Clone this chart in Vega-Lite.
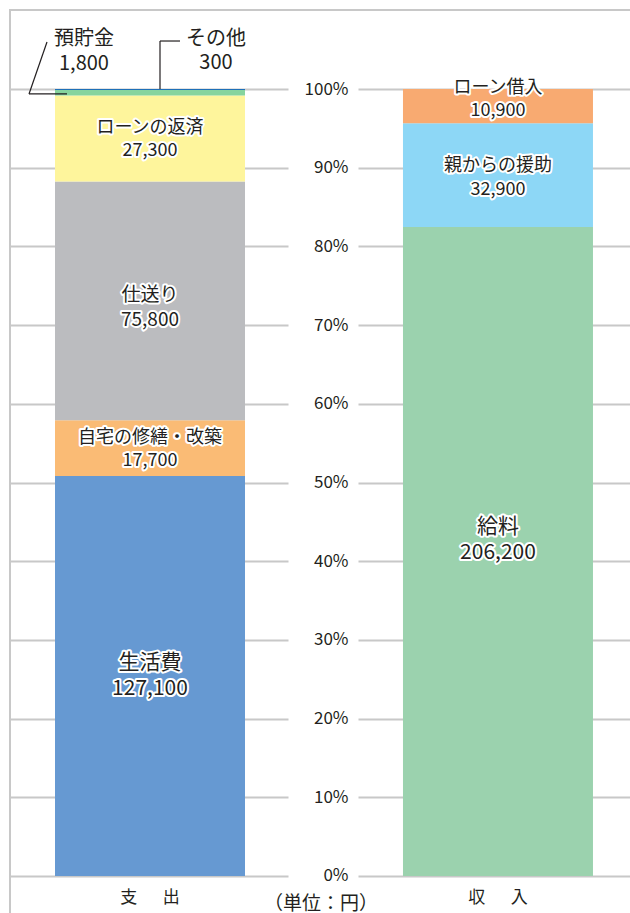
{
  "$schema": "https://vega.github.io/schema/vega-lite/v6.json",
  "width": 621,
  "height": 904,
  "autosize": {"type": "none"},
  "padding": {"left": 10, "top": 10, "right": 0, "bottom": 0},
  "background": "white",
  "config": {
    "font": "Noto Sans CJK JP",
    "view": {"stroke": "#c8c8c8", "strokeWidth": 2},
    "text": {"color": "#231f20"}
  },
  "data": {
    "values": [
      {"side": "支　\u2002出", "item": "生活費", "value": 127100, "order": 1},
      {"side": "支　\u2002出", "item": "自宅の修繕・改築", "value": 17700, "order": 2},
      {"side": "支　\u2002出", "item": "仕送り", "value": 75800, "order": 3},
      {"side": "支　\u2002出", "item": "ローンの返済", "value": 27300, "order": 4},
      {"side": "支　\u2002出", "item": "預貯金", "value": 1800, "order": 5},
      {"side": "支　\u2002出", "item": "その他", "value": 300, "order": 6},
      {"side": "収　\u2002入", "item": "給料", "value": 206200, "order": 1},
      {"side": "収　\u2002入", "item": "親からの援助", "value": 32900, "order": 2},
      {"side": "収　\u2002入", "item": "ローン借入", "value": 10900, "order": 3}
    ]
  },
  "transform": [
    {"stack": "value", "groupby": ["side"], "sort": [{"field": "order", "order": "ascending"}], "offset": "normalize", "as": ["y0", "y1"]}
  ],
  "encoding": {
    "x": {
      "field": "side",
      "type": "nominal",
      "sort": ["支　\u2002出", "収　\u2002入"],
      "scale": {"domain": ["支　\u2002出", "収　\u2002入"], "paddingInner": 0.454, "paddingOuter": 0.1193, "align": 0.542},
      "axis": {
        "orient": "bottom",
        "offset": -38,
        "domain": false,
        "ticks": false,
        "tickSize": 0,
        "grid": false,
        "labelPadding": 13,
        "labelFontSize": 17,
        "labelColor": "#231f20",
        "labelAngle": 0,
        "title": "（単位：円）",
        "titleFontSize": 19,
        "titleFontWeight": "normal",
        "titleColor": "#231f20",
        "titleY": 27,
        "titleBaseline": "middle"
      }
    },
    "y": {
      "field": "y0",
      "type": "quantitative",
      "scale": {"domain": [-0.0483, 1.1004], "nice": false, "zero": false},
      "axis": {
        "orient": "left",
        "offset": -338,
        "values": [0, 0.1, 0.2, 0.3, 0.4, 0.5, 0.6, 0.7, 0.8, 0.9, 1],
        "format": ".0%",
        "domain": false,
        "ticks": false,
        "tickSize": 0,
        "labelPadding": 0,
        "labelFontSize": 17,
        "labelColor": "#231f20",
        "grid": true,
        "gridColor": "#c8c8c8",
        "gridWidth": 2,
        "gridDash": [278, 70, 1000],
        "title": null
      }
    }
  },
  "layer": [
    {
      "mark": {"type": "bar"},
      "encoding": {
        "y2": {"field": "y1"},
        "color": {
          "field": "item",
          "type": "nominal",
          "legend": null,
          "scale": {
            "domain": ["生活費", "自宅の修繕・改築", "仕送り", "ローンの返済", "預貯金", "その他", "給料", "親からの援助", "ローン借入"],
            "range": ["#6699d2", "#fabb75", "#bbbcbf", "#fef59c", "#86d49e", "#1e70b8", "#9bd2ae", "#8dd7f6", "#f8aa71"]
          }
        }
      }
    },
    {
      "transform": [{"filter": {"field": "item", "equal": "生活費"}}],
      "layer": [
        {"mark": {"type": "text", "fontSize": 21, "dy": -212.5, "fill": "white", "stroke": "white", "strokeWidth": 4, "strokeJoin": "round"}, "encoding": {"text": {"field": "item"}}},
        {"mark": {"type": "text", "fontSize": 21, "dy": -186.5, "fill": "white", "stroke": "white", "strokeWidth": 4, "strokeJoin": "round"}, "encoding": {"text": {"field": "value", "type": "quantitative", "format": ","}}},
        {"mark": {"type": "text", "fontSize": 21, "dy": -212.5, "fill": "#231f20"}, "encoding": {"text": {"field": "item"}}},
        {"mark": {"type": "text", "fontSize": 21, "dy": -186.5, "fill": "#231f20"}, "encoding": {"text": {"field": "value", "type": "quantitative", "format": ","}}}
      ]
    },
    {
      "transform": [{"filter": {"field": "item", "equal": "自宅の修繕・改築"}}],
      "layer": [
        {"mark": {"type": "text", "fontSize": 18, "dy": -37.6, "fill": "white", "stroke": "white", "strokeWidth": 4, "strokeJoin": "round"}, "encoding": {"text": {"field": "item"}}},
        {"mark": {"type": "text", "fontSize": 18, "dy": -14.6, "fill": "white", "stroke": "white", "strokeWidth": 4, "strokeJoin": "round"}, "encoding": {"text": {"field": "value", "type": "quantitative", "format": ","}}},
        {"mark": {"type": "text", "fontSize": 18, "dy": -37.6, "fill": "#231f20"}, "encoding": {"text": {"field": "item"}}},
        {"mark": {"type": "text", "fontSize": 18, "dy": -14.6, "fill": "#231f20"}, "encoding": {"text": {"field": "value", "type": "quantitative", "format": ","}}}
      ]
    },
    {
      "transform": [{"filter": {"field": "item", "equal": "仕送り"}}],
      "layer": [
        {"mark": {"type": "text", "fontSize": 19, "dy": -124.7, "fill": "white", "stroke": "white", "strokeWidth": 4, "strokeJoin": "round"}, "encoding": {"text": {"field": "item"}}},
        {"mark": {"type": "text", "fontSize": 19, "dy": -100.2, "fill": "white", "stroke": "white", "strokeWidth": 4, "strokeJoin": "round"}, "encoding": {"text": {"field": "value", "type": "quantitative", "format": ","}}},
        {"mark": {"type": "text", "fontSize": 19, "dy": -124.7, "fill": "#231f20"}, "encoding": {"text": {"field": "item"}}},
        {"mark": {"type": "text", "fontSize": 19, "dy": -100.2, "fill": "#231f20"}, "encoding": {"text": {"field": "value", "type": "quantitative", "format": ","}}}
      ]
    },
    {
      "transform": [{"filter": {"field": "item", "equal": "ローンの返済"}}],
      "layer": [
        {"mark": {"type": "text", "fontSize": 18, "dy": -54, "fill": "white", "stroke": "white", "strokeWidth": 4, "strokeJoin": "round"}, "encoding": {"text": {"field": "item"}}},
        {"mark": {"type": "text", "fontSize": 18, "dy": -30.5, "fill": "white", "stroke": "white", "strokeWidth": 4, "strokeJoin": "round"}, "encoding": {"text": {"field": "value", "type": "quantitative", "format": ","}}},
        {"mark": {"type": "text", "fontSize": 18, "dy": -54, "fill": "#231f20"}, "encoding": {"text": {"field": "item"}}},
        {"mark": {"type": "text", "fontSize": 18, "dy": -30.5, "fill": "#231f20"}, "encoding": {"text": {"field": "value", "type": "quantitative", "format": ","}}}
      ]
    },
    {
      "transform": [{"filter": {"field": "item", "equal": "給料"}}],
      "layer": [
        {"mark": {"type": "text", "fontSize": 21, "dy": -348.5, "fill": "white", "stroke": "white", "strokeWidth": 4, "strokeJoin": "round"}, "encoding": {"text": {"field": "item"}}},
        {"mark": {"type": "text", "fontSize": 21, "dy": -322.5, "fill": "white", "stroke": "white", "strokeWidth": 4, "strokeJoin": "round"}, "encoding": {"text": {"field": "value", "type": "quantitative", "format": ","}}},
        {"mark": {"type": "text", "fontSize": 21, "dy": -348.5, "fill": "#231f20"}, "encoding": {"text": {"field": "item"}}},
        {"mark": {"type": "text", "fontSize": 21, "dy": -322.5, "fill": "#231f20"}, "encoding": {"text": {"field": "value", "type": "quantitative", "format": ","}}}
      ]
    },
    {
      "transform": [{"filter": {"field": "item", "equal": "親からの援助"}}],
      "layer": [
        {"mark": {"type": "text", "fontSize": 18, "dy": -60.9, "fill": "white", "stroke": "white", "strokeWidth": 4, "strokeJoin": "round"}, "encoding": {"text": {"field": "item"}}},
        {"mark": {"type": "text", "fontSize": 18, "dy": -36.4, "fill": "white", "stroke": "white", "strokeWidth": 4, "strokeJoin": "round"}, "encoding": {"text": {"field": "value", "type": "quantitative", "format": ","}}},
        {"mark": {"type": "text", "fontSize": 18, "dy": -60.9, "fill": "#231f20"}, "encoding": {"text": {"field": "item"}}},
        {"mark": {"type": "text", "fontSize": 18, "dy": -36.4, "fill": "#231f20"}, "encoding": {"text": {"field": "value", "type": "quantitative", "format": ","}}}
      ]
    },
    {
      "transform": [{"filter": {"field": "item", "equal": "ローン借入"}}],
      "layer": [
        {"mark": {"type": "text", "fontSize": 18, "dy": -35.8, "fill": "white", "stroke": "white", "strokeWidth": 4, "strokeJoin": "round"}, "encoding": {"text": {"field": "item"}}},
        {"mark": {"type": "text", "fontSize": 18, "dy": -12.8, "fill": "white", "stroke": "white", "strokeWidth": 4, "strokeJoin": "round"}, "encoding": {"text": {"field": "value", "type": "quantitative", "format": ","}}},
        {"mark": {"type": "text", "fontSize": 18, "dy": -35.8, "fill": "#231f20"}, "encoding": {"text": {"field": "item"}}},
        {"mark": {"type": "text", "fontSize": 18, "dy": -12.8, "fill": "#231f20"}, "encoding": {"text": {"field": "value", "type": "quantitative", "format": ","}}}
      ]
    },
    {
      "transform": [{"filter": {"field": "item", "equal": "預貯金"}}],
      "layer": [
        {"mark": {"type": "text", "fontSize": 20, "dx": -66, "dy": -56.5, "fill": "#231f20"}, "encoding": {"text": {"field": "item"}}},
        {"mark": {"type": "text", "fontSize": 20, "dx": -66, "dy": -32, "fill": "#231f20"}, "encoding": {"text": {"field": "value", "type": "quantitative", "format": ","}}},
        {"mark": {"type": "rule", "color": "#231f20", "strokeWidth": 1.2, "xOffset": -121, "x2Offset": -103, "yOffset": 4, "y2Offset": -48}, "encoding": {"x2": {"field": "side"}, "y": {"field": "y1", "type": "quantitative"}, "y2": {"field": "y1"}}},
        {"mark": {"type": "rule", "color": "#231f20", "strokeWidth": 1.2, "xOffset": -121, "x2Offset": -83, "yOffset": 4, "y2Offset": 4}, "encoding": {"x2": {"field": "side"}, "y": {"field": "y1", "type": "quantitative"}, "y2": {"field": "y1"}}}
      ]
    },
    {
      "transform": [{"filter": {"field": "item", "equal": "その他"}}],
      "layer": [
        {"mark": {"type": "text", "fontSize": 20, "dx": 66, "dy": -51, "fill": "#231f20"}, "encoding": {"text": {"field": "item"}}},
        {"mark": {"type": "text", "fontSize": 20, "dx": 66, "dy": -26.5, "fill": "#231f20"}, "encoding": {"text": {"field": "value", "type": "quantitative", "format": ","}}},
        {"mark": {"type": "rule", "color": "#231f20", "strokeWidth": 1.2, "xOffset": 10, "x2Offset": 10, "yOffset": 0, "y2Offset": -48}, "encoding": {"x2": {"field": "side"}, "y": {"field": "y1", "type": "quantitative"}, "y2": {"field": "y1"}}},
        {"mark": {"type": "rule", "color": "#231f20", "strokeWidth": 1.2, "xOffset": 10, "x2Offset": 30, "yOffset": -48, "y2Offset": -48}, "encoding": {"x2": {"field": "side"}, "y": {"field": "y1", "type": "quantitative"}, "y2": {"field": "y1"}}}
      ]
    }
  ]
}
